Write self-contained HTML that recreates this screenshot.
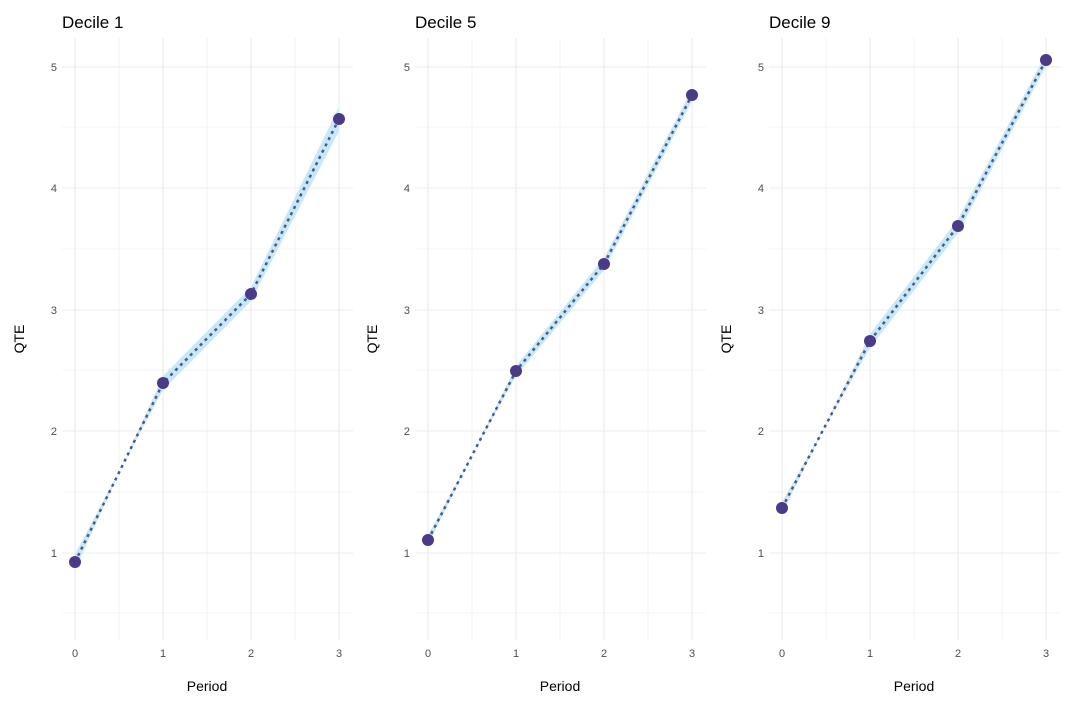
<!DOCTYPE html>
<html><head><meta charset="utf-8"><style>
body{margin:0;background:#fff}
svg{display:block;font-family:"Liberation Sans",sans-serif}
</style></head><body>
<svg width="1074" height="709" viewBox="0 0 1074 709" xmlns="http://www.w3.org/2000/svg">
<defs>
<g id="grid" stroke="#ebebeb">
  <line x1="0" x2="291" y1="613" y2="613" stroke-width="0.6"/>
  <line x1="0" x2="291" y1="492" y2="492" stroke-width="0.6"/>
  <line x1="0" x2="291" y1="370" y2="370" stroke-width="0.6"/>
  <line x1="0" x2="291" y1="249" y2="249" stroke-width="0.6"/>
  <line x1="0" x2="291" y1="127" y2="127" stroke-width="0.6"/>
  <line x1="0" x2="291" y1="553" y2="553" stroke-width="1.1"/>
  <line x1="0" x2="291" y1="431" y2="431" stroke-width="1.1"/>
  <line x1="0" x2="291" y1="310" y2="310" stroke-width="1.1"/>
  <line x1="0" x2="291" y1="188" y2="188" stroke-width="1.1"/>
  <line x1="0" x2="291" y1="67" y2="67" stroke-width="1.1"/>
  <line x1="57" x2="57" y1="38" y2="640" stroke-width="0.6"/>
  <line x1="145" x2="145" y1="38" y2="640" stroke-width="0.6"/>
  <line x1="233" x2="233" y1="38" y2="640" stroke-width="0.6"/>
  <line x1="13" x2="13" y1="38" y2="640" stroke-width="1.1"/>
  <line x1="101" x2="101" y1="38" y2="640" stroke-width="1.1"/>
  <line x1="189" x2="189" y1="38" y2="640" stroke-width="1.1"/>
  <line x1="277" x2="277" y1="38" y2="640" stroke-width="1.1"/>
</g>
<g id="labels" font-size="11" fill="#4d4d4d">
  <g text-anchor="end">
    <text x="-5" y="557">1</text><text x="-5" y="435">2</text><text x="-5" y="314">3</text><text x="-5" y="192">4</text><text x="-5" y="71">5</text>
  </g>
  <g text-anchor="middle">
    <text x="13" y="657">0</text><text x="101" y="657">1</text><text x="189" y="657">2</text><text x="277" y="657">3</text>
    <text x="145" y="691" font-size="14" fill="#000">Period</text>
  </g>
  <text transform="translate(-38,339) rotate(-90)" text-anchor="middle" font-size="14" fill="#000">QTE</text>
</g>
</defs>

<g transform="translate(62,0)">
  <use href="#grid"/><use href="#labels"/>
  <text x="0" y="28" font-size="17" fill="#000">Decile 1</text>
  <polygon points="13,570 101,376 189,287 277,107 277,131 189,301 101,390 13,554" fill="#c6e8f7"/>
  <polyline points="13,562 101,383 189,294 277,119" fill="none" stroke="#4a5a8a" stroke-width="2.5" stroke-dasharray="3,4"/>
  <g fill="#4b3a87"><circle cx="13" cy="562" r="6"/><circle cx="101" cy="383" r="6"/><circle cx="189" cy="294" r="6"/><circle cx="277" cy="119" r="6"/></g>
</g>
<g transform="translate(415,0)">
  <use href="#grid"/><use href="#labels"/>
  <text x="0" y="28" font-size="17" fill="#000">Decile 5</text>
  <polygon points="13,545 101,366 189,258 277,89 277,101 189,270 101,376 13,535" fill="#c6e8f7"/>
  <polyline points="13,540 101,371 189,264 277,95" fill="none" stroke="#4a5a8a" stroke-width="2.5" stroke-dasharray="3,4"/>
  <g fill="#4b3a87"><circle cx="13" cy="540" r="6"/><circle cx="101" cy="371" r="6"/><circle cx="189" cy="264" r="6"/><circle cx="277" cy="95" r="6"/></g>
</g>
<g transform="translate(769,0)">
  <use href="#grid"/><use href="#labels"/>
  <text x="0" y="28" font-size="17" fill="#000">Decile 9</text>
  <polygon points="13,514 101,334 189,219 277,54 277,66 189,233 101,348 13,502" fill="#c6e8f7"/>
  <polyline points="13,508 101,341 189,226 277,60" fill="none" stroke="#4a5a8a" stroke-width="2.5" stroke-dasharray="3,4"/>
  <g fill="#4b3a87"><circle cx="13" cy="508" r="6"/><circle cx="101" cy="341" r="6"/><circle cx="189" cy="226" r="6"/><circle cx="277" cy="60" r="6"/></g>
</g>
</svg>
</body></html>
